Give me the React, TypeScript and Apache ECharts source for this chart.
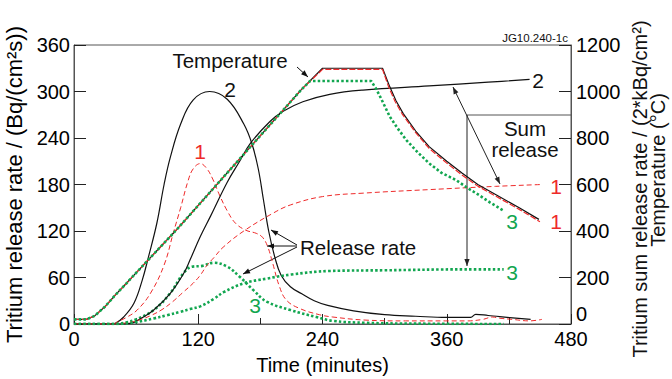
import React, { useEffect, useRef } from "react";
import * as echarts from "echarts";

// ---- data (time in minutes) ----
const xTicks = [0, 120, 240, 360, 480];
const leftTicks = [0, 60, 120, 180, 240, 300, 360];
const rightTicks = [0, 200, 400, 600, 800, 1000, 1200];

// Tritium release rate (left axis, Bq/(cm2 s))
const rate1 = [[0,0],[38,0],[42,3],[50,8],[61,18],[74,40],[87,76],[96,118],[103,150],[110,184],[115,200],[122,207],[128,201],[134,187],[140,168],[148,146],[156,130],[166,121],[176,117],[182,112],[187,100],[192,78],[198,50],[205,31],[218,20],[237,12],[250,9],[282,5],[320,4],[359,4],[380,4],[395,6],[404,9],[411,7.5],[423,6],[440,4],[452,6]];
const rate2 = [[0,0],[35,0],[40,1],[48,9],[58,27],[66,57],[72,87],[80,130],[87,180],[93,215],[103,258],[115,289],[131,300],[148,290],[164,258],[172,232],[178,200],[183,160],[188,120],[194,86],[200,63],[209,48],[220,39],[232,30],[245,24],[270,17],[300,12],[330,10],[360,8.5],[383,8.6],[388,12.5],[400,11],[411,9.5],[441,6]];
const rate3 = [[0,0],[40,0],[50,2],[60,6],[77,18],[93,40],[106,66],[114,74],[124,75],[135,79],[148,74],[160,61],[173,44],[186,29],[209,18],[234,9],[250,4],[282,1.5],[330,0.5],[415,0]];

// Tritium sum release (right axis, 2*kBq/cm2)
const sum1 = [[0,0],[40,0],[45,2],[55,8],[65,20],[75,38],[85,62],[95,95],[105,135],[115,175],[122,210],[128,250],[135,285],[144,330],[164,400],[192,476],[209,512],[240,548],[280,563],[343,578],[407,592],[452,600]];
const sum2 = [[0,0],[40,0],[55,3],[65,25],[77,60],[93,132],[106,218],[112,275],[122,376],[132,465],[148,610],[160,700],[170,775],[189,870],[202,915],[221,956],[247,988],[279,1006],[343,1024],[400,1040],[440,1052]];
const sum3 = [[0,0],[40,0],[60,8],[77,24],[90,38],[103,53],[112,64],[122,76],[135,108],[145,138],[164,175],[186,195],[210,213],[247,228],[300,231],[378,235],[415,235]];

// Temperature (right axis, °C)
const temp2 = [[0,20],[12,20],[20,35],[30,75],[40,125],[50,172],[60,220],[80,315],[100,410],[120,510],[140,610],[160,710],[180,810],[200,910],[220,1010],[240,1100],[298,1100],[305,1020],[311,960],[318,905],[330,830],[343,763],[360,700],[375,648],[390,600],[408,555],[430,500],[449,450]];
const temp1 = [[0,20],[12,20],[20,35],[30,75],[40,125],[50,172],[60,220],[80,315],[100,410],[120,510],[140,610],[160,710],[180,810],[200,910],[220,1010],[240,1095],[298,1095],[304,1018],[310,958],[317,903],[330,823],[343,755],[360,692],[375,640],[390,593],[408,548],[430,493],[450,440]];
const temp3 = [[0,20],[12,20],[20,35],[30,75],[40,125],[50,172],[60,220],[80,315],[100,410],[120,510],[140,610],[160,710],[180,810],[200,910],[220,1010],[228,1045],[287,1045],[292,1010],[296,975],[305,892],[312,845],[321,791],[332,738],[343,691],[355,650],[369,619],[380,585],[391,555],[402,522],[414,490]];

const FONT = "'Liberation Sans', Arial, Helvetica, sans-serif";
const BLACK = "#111111";
const RED = "#ee2a2a";
const GREEN = "#12a650";

function arrowHead(x1: number, y1: number, x2: number, y2: number, color: string) {
  const dx = x2 - x1, dy = y2 - y1;
  const len = Math.sqrt(dx * dx + dy * dy) || 1;
  const ux = dx / len, uy = dy / len;
  const L = 7, W = 2.6;
  const bx = x2 - ux * L, by = y2 - uy * L;
  return {
    type: "polygon",
    shape: { points: [[x2, y2], [bx - uy * W, by + ux * W], [bx + uy * W, by - ux * W]] },
    style: { fill: color },
    silent: true,
  };
}

function arrow(x1: number, y1: number, x2: number, y2: number, color = BLACK, both = false, width = 1) {
  const els: any[] = [
    { type: "line", shape: { x1, y1, x2, y2 }, style: { stroke: color, lineWidth: width }, silent: true },
    arrowHead(x1, y1, x2, y2, color),
  ];
  if (both) els.push(arrowHead(x2, y2, x1, y1, color));
  return els;
}

function txt(x: number, y: number, text: string, fill = BLACK, fontSize = 20, align = "center", rotation = 0) {
  return {
    type: "text",
    x,
    y,
    rotation,
    style: { text, fill, fontSize, fontFamily: FONT, align, verticalAlign: "middle" },
    silent: true,
  };
}

function lineSeries(name: string, data: number[][], axis: number, color: string, kind: string, smooth: number | boolean) {
  const ls: any = { color, width: 1.2 };
  if (kind === "dashed") { ls.type = [5, 3]; ls.width = 1; }
  if (kind === "dotted") { ls.type = [2.5, 2.2]; ls.width = 2.6; ls.cap = "butt"; }
  return {
    name,
    type: "line",
    yAxisIndex: axis,
    data,
    showSymbol: false,
    symbol: "none",
    smooth,
    lineStyle: ls,
    silent: true,
  };
}

export default function App() {
  const ref = useRef<HTMLDivElement>(null);
  useEffect(() => {
    if (!ref.current) return;
    const chart = echarts.init(ref.current, undefined, { renderer: "svg" });
    const axisLabel = { fontSize: 20, color: "#000", fontFamily: FONT, formatter: (v: number) => String(v) };
    const graphic: any[] = [
      txt(230, 60, "Temperature", BLACK, 20.5),
      ...arrow(297, 67, 308, 77),
      txt(230, 89, "2", BLACK, 21),
      txt(200, 151, "1", RED, 21),
      txt(255, 305, "3", GREEN, 21),
      txt(538, 80, "2", BLACK, 21),
      txt(556, 186, "1", RED, 21),
      txt(556, 221, "1", RED, 21),
      txt(512, 221, "3", GREEN, 21),
      txt(512, 272, "3", GREEN, 21),
      txt(300, 247, "Release rate", BLACK, 20.5, "left"),
      ...arrow(297, 245, 271, 230),
      ...arrow(297, 246, 267, 246),
      ...arrow(297, 247, 243, 274),
      txt(525, 128, "Sum", BLACK, 20.5),
      txt(525, 149, "release", BLACK, 20.5),
      { type: "line", shape: { x1: 467, y1: 115, x2: 571, y2: 115 }, style: { stroke: "#555", lineWidth: 1 }, silent: true },
      ...arrow(467, 115, 467, 266, "#222"),
      ...arrow(453, 87, 500, 184, "#222", true),
      txt(568, 38, "JG10.240-1c", BLACK, 11.5, "right"),
      txt(640, 189, "Tritium sum release rate / (2*kBq/cm²)", BLACK, 20, "center", Math.PI / 2),
      txt(658, 170, "Temperature (°C)", BLACK, 20, "center", Math.PI / 2),
    ];
    chart.setOption({
      animation: false,
      backgroundColor: "#ffffff",
      textStyle: { fontFamily: FONT },
      grid: {
        left: 74, right: 101, top: 45, bottom: 55,
        containLabel: false,
        outerBoundsMode: "none",
        show: true, borderColor: "#555", borderWidth: 1, backgroundColor: "transparent",
      },
      xAxis: {
        type: "value",
        min: xTicks[0],
        max: xTicks[xTicks.length - 1],
        interval: xTicks[1] - xTicks[0],
        name: "Time (minutes)",
        nameLocation: "middle",
        nameGap: 31,
        nameTextStyle: { fontSize: 20, color: "#000", fontFamily: FONT },
        axisLine: { lineStyle: { color: "#555" } },
        axisTick: { inside: true, length: 10, lineStyle: { color: "#222" } },
        minorTick: { show: true, splitNumber: 2, length: 6, lineStyle: { color: "#222" } },
        splitLine: { show: false },
        axisLabel: { ...axisLabel, margin: 5 },
      },
      yAxis: [
        {
          type: "value",
          min: leftTicks[0],
          max: leftTicks[leftTicks.length - 1],
          interval: leftTicks[1] - leftTicks[0],
          name: "Tritium release rate / (Bq/(cm²s))",
          nameLocation: "middle",
          nameGap: 45,
          nameTextStyle: { fontSize: 22, color: "#000", fontFamily: FONT },
          axisLine: { show: true, lineStyle: { color: "#555" } },
          axisTick: { show: true, inside: true, length: 12, lineStyle: { color: "#222" } },
          splitLine: { show: false },
          axisLabel: { ...axisLabel, margin: 4 },
        },
        {
          type: "value",
          position: "right",
          min: rightTicks[0],
          max: rightTicks[rightTicks.length - 1],
          interval: rightTicks[1] - rightTicks[0],
          axisLine: { show: true, lineStyle: { color: "#555" } },
          axisTick: { show: true, inside: true, length: 12, lineStyle: { color: "#222" } },
          splitLine: { show: false },
          axisLabel: { ...axisLabel, margin: 5, verticalAlignMinLabel: "bottom" },
        },
      ],
      series: [
        lineSeries("Release rate 2", rate2, 0, BLACK, "solid", 0.4),
        lineSeries("Release rate 1", rate1, 0, RED, "dashed", 0.4),
        lineSeries("Release rate 3", rate3, 0, GREEN, "dotted", 0.4),
        lineSeries("Sum release 2", sum2, 1, BLACK, "solid", 0.4),
        lineSeries("Sum release 1", sum1, 1, RED, "dashed", 0.4),
        lineSeries("Sum release 3", sum3, 1, GREEN, "dotted", 0.4),
        lineSeries("Temperature 2", temp2, 1, BLACK, "solid", false),
        { ...lineSeries("Temperature 1", temp1, 1, RED, "dashed", false), lineStyle: { color: RED, width: 1.2, type: [6, 2] } },
        lineSeries("Temperature 3", temp3, 1, GREEN, "dotted", false),
      ],
      graphic,
    });
    return () => chart.dispose();
  }, []);
  return <div ref={ref} style={{ width: 672, height: 379, position: "absolute", left: 0, top: 0 }} />;
}
